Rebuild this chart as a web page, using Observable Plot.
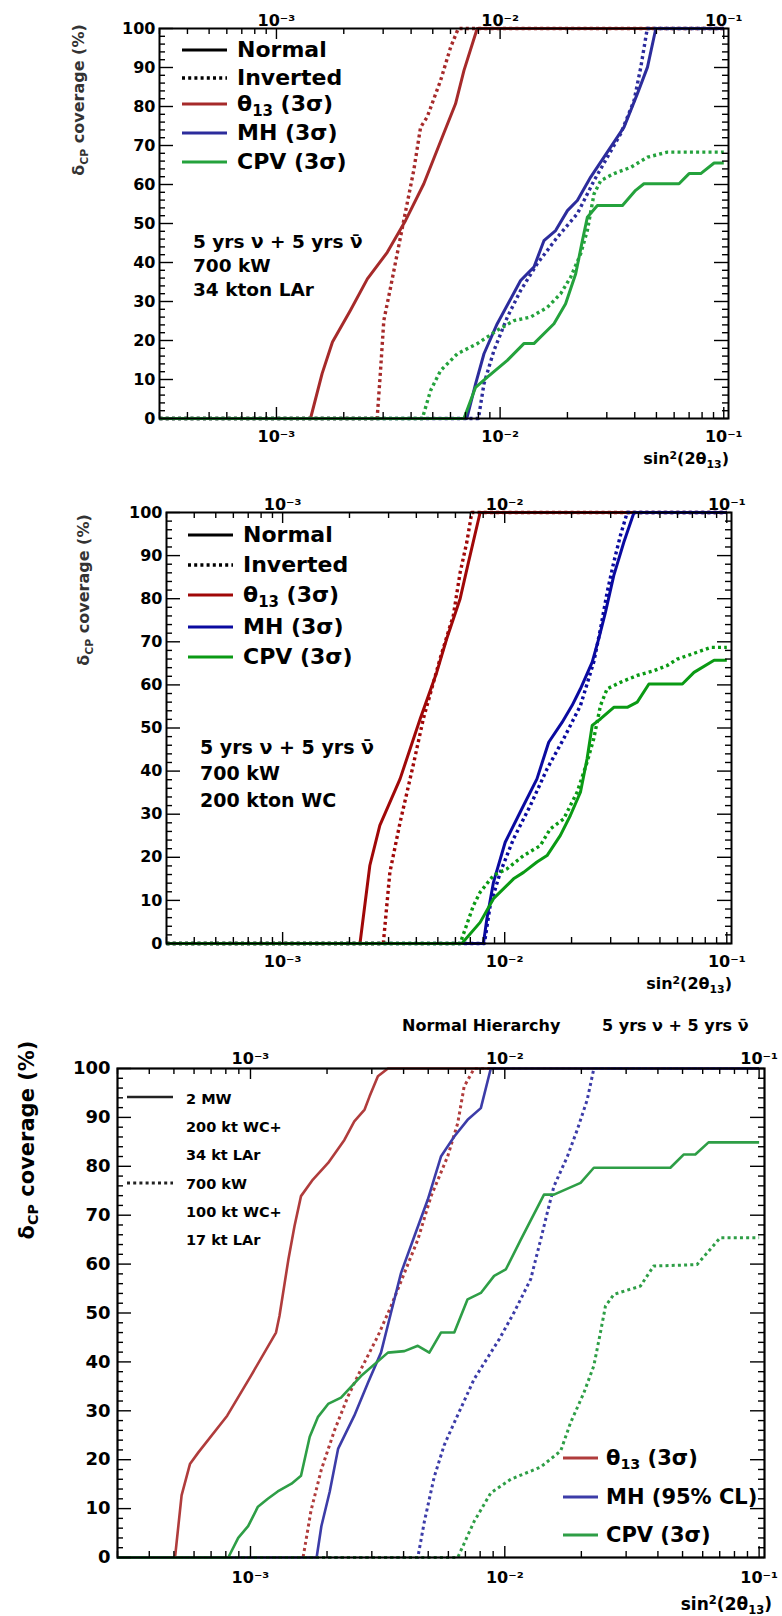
<!DOCTYPE html>
<html><head><meta charset="utf-8">
<script src="https://cdn.jsdelivr.net/npm/d3@7"></script>
<script src="https://cdn.jsdelivr.net/npm/@observablehq/plot@0.6"></script>
<style>
body{margin:0;background:#fff;}
#page{position:relative;width:782px;height:1616px;overflow:hidden;background:#fff;font-family:"DejaVu Sans",sans-serif;font-weight:bold;color:#000;}
.pl{position:absolute;left:0;}
.lbl{position:absolute;white-space:nowrap;line-height:1;}
.lbl sub{font-size:0.68em;vertical-align:-0.35em;line-height:0;}
.lbl sup{font-size:0.68em;vertical-align:0.5em;line-height:0;}
</style></head><body><div id="page"></div>
<script>
// ---------- axes / ticks ----------
const X_DOMAIN = [3e-4, 0.105];
const DECADES = [1e-3, 1e-2, 1e-1];
const DECADE_LABELS = ["10⁻³", "10⁻²", "10⁻¹"];
const MINOR_X = [3e-4,4e-4,5e-4,6e-4,7e-4,8e-4,9e-4,2e-3,3e-3,4e-3,5e-3,6e-3,7e-3,8e-3,9e-3,2e-2,3e-2,4e-2,5e-2,6e-2,7e-2,8e-2,9e-2];
const Y_MAJOR = [0,10,20,30,40,50,60,70,80,90,100];
const Y_MINOR = [2,4,6,8,12,14,16,18,22,24,26,28,32,34,36,38,42,44,46,48,52,54,56,58,62,64,66,68,72,74,76,78,82,84,86,88,92,94,96,98];

// ---------- panel 1 : 34 kton LAr ----------
const p1_theta_N_x = [3e-4,1.42e-3,1.60e-3,1.78e-3,2.14e-3,2.55e-3,3.13e-3,3.78e-3,4.56e-3,5.51e-3,6.32e-3,6.89e-3,7.9e-3,0.1];
const p1_theta_N_y = [0,0,11.5,19.6,27.7,35.8,42.6,50.8,60.2,72.1,80.7,89.2,100,100];
const p1_theta_I_x = [3e-4,2.82e-3,2.92e-3,3.02e-3,3.24e-3,3.71e-3,4.11e-3,4.41e-3,4.72e-3,5.42e-3,6.01e-3,6.5e-3,0.1];
const p1_theta_I_y = [0,0,12.3,25.1,33.7,50.8,63.6,74.7,77.3,86.7,95.2,100,100];
const p1_mh_N_x = [3e-4,7.1e-3,7.77e-3,8.47e-3,9.71e-3,0.01235,0.01416,0.0157,0.01771,0.02,0.02215,0.02541,0.03121,0.03581,0.04111,0.0456,0.0497,0.1];
const p1_mh_N_y = [0,0,8.9,16.6,24.3,35.4,38.8,45.6,48.2,53.3,55.9,61.9,69.6,74.7,83.3,90.1,100,100];
const p1_mh_I_x = [3e-4,8.0e-3,8.47e-3,9.38e-3,0.01077,0.01235,0.01466,0.01803,0.02215,0.0263,0.03018,0.03459,0.0397,0.04254,0.0455,0.1];
const p1_mh_I_y = [0,0,8.9,17.4,26,32.8,39.7,46.5,52.5,61,67,73,81.5,90,100,100];
const p1_cpv_N_x = [3e-4,6.89e-3,7.77e-3,8.77e-3,0.01077,0.01277,0.01416,0.01741,0.01963,0.02178,0.02333,0.02455,0.02722,0.03524,0.04036,0.04396,0.0631,0.06998,0.07889,0.09054,0.1];
const p1_cpv_N_y = [0,0,8,10.6,14.9,19.2,19.2,24.3,29.4,37.1,45.6,51.6,54.6,54.6,58.5,60.2,60.2,62.8,62.8,65.5,65.5];
const p1_cpv_I_x = [3e-4,4.49e-3,4.89e-3,5.42e-3,6.44e-3,7.91e-3,9.71e-3,0.01153,0.01368,0.01626,0.01866,0.02066,0.02291,0.02455,0.0263,0.02818,0.03229,0.03837,0.0456,0.056,0.1];
const p1_cpv_I_y = [0,0,7.2,12.3,16.6,19.2,22.6,25.1,26,28.5,32,36.2,42.2,48.2,57.6,61,62.8,64.4,67,68.3,68.3];

// ---------- panel 2 : 200 kton WC ----------
const p2_theta_N_x = [3e-4,2.23e-3,2.47e-3,2.74e-3,3.38e-3,4.16e-3,4.94e-3,5.48e-3,6.30e-3,6.87e-3,7.75e-3,0.1];
const p2_theta_N_y = [0,0,18.1,27.4,38.2,52.1,62.9,70.7,80,88.5,100,100];
const p2_theta_I_x = [3e-4,2.84e-3,3.04e-3,3.38e-3,3.87e-3,4.30e-3,5.11e-3,5.87e-3,6.30e-3,6.75e-3,7.11e-3,0.1];
const p2_theta_I_y = [0,0,16.5,28.1,41.3,52.1,66,76.1,86.1,93.1,100,100];
const p2_mh_N_x = [3e-4,8.02e-3,8.31e-3,8.9e-3,0.01005,0.01175,0.01397,0.01578,0.01812,0.0201,0.02193,0.02477,0.0265,0.02843,0.03099,0.03438,0.0382,0.1];
const p2_mh_N_y = [0,0,5.7,14.2,23.5,30.5,38.2,46.7,51.3,55.2,59.1,65.3,70.7,76.9,85.4,93.1,100,100];
const p2_mh_I_x = [3e-4,8.1e-3,8.6e-3,9.55e-3,0.01096,0.01304,0.01551,0.01842,0.02193,0.02517,0.02699,0.02893,0.03099,0.03321,0.0356,0.1];
const p2_mh_I_y = [0,0,8.8,16.5,24.3,32,40.5,47.5,55.2,65.3,73,81.5,88.5,94.7,100,100];
const p2_cpv_N_x = [3e-4,6.41e-3,7.75e-3,8.9e-3,0.01096,0.01216,0.01397,0.01551,0.01781,0.01975,0.02193,0.0235,0.02477,0.02699,0.03099,0.03562,0.03952,0.0446,0.0631,0.07118,0.08767,0.1];
const p2_cpv_N_y = [0,0,4.9,10.4,15,16.5,18.9,20.4,25.1,29.7,35.1,42.9,50.6,52.1,54.8,54.8,56,60.2,60.2,62.9,65.7,65.7];
const p2_cpv_I_x = [3e-4,6.3e-3,7.23e-3,7.75e-3,8.9e-3,0.01023,0.01216,0.01446,0.01604,0.01842,0.02118,0.0235,0.02517,0.02699,0.02893,0.03321,0.03952,0.04698,0.05395,0.05987,0.07374,0.08465,0.1];
const p2_cpv_I_y = [0,0,8.8,11.9,15.8,17.3,20.4,22.7,26.6,28.9,35.1,42.1,47.5,55.2,59.1,60.6,62.2,63.3,64.5,66,67.6,68.7,68.7];

// ---------- panel 3 : 2 MW vs 700 kW, normal hierarchy ----------
const p3_theta_2MW_x = [3e-4,5.05e-4,5.36e-4,5.78e-4,6.24e-4,8.1e-4,1.0e-3,1.26e-3,1.30e-3,1.41e-3,1.49e-3,1.58e-3,1.76e-3,2.02e-3,2.34e-3,2.56e-3,2.81e-3,2.94e-3,3.17e-3,3.47e-3,0.1];
const p3_theta_2MW_y = [0,0,12.7,19.1,21.5,29,37,46,49.4,61,67.8,73.9,77.3,80.7,85.4,89.2,91.6,94.3,98.4,100,100];
const p3_theta_700_x = [3e-4,1.61e-3,1.73e-3,1.90e-3,2.14e-3,2.42e-3,2.72e-3,3.17e-3,3.57e-3,4.03e-3,4.55e-3,5.13e-3,5.96e-3,6.53e-3,6.92e-3,7.58e-3,0.1];
const p3_theta_700_y = [0,0,9.6,18,26,33,38.5,45.3,51.4,58.2,65,73.9,82,88.8,96.3,100,100];
const p3_mh_2MW_x = [3e-4,1.82e-3,1.90e-3,2.05e-3,2.21e-3,2.56e-3,2.90e-3,3.26e-3,3.57e-3,3.91e-3,4.41e-3,4.98e-3,5.61e-3,6.33e-3,7.14e-3,8.05e-3,8.81e-3,0.1];
const p3_mh_2MW_y = [0,0,6.4,13.5,22.2,29,35.8,41.9,50.1,58.2,65.7,73.2,82,86.1,89.5,91.9,100,100];
const p3_mh_700_x = [3e-4,4.55e-3,4.83e-3,5.28e-3,5.78e-3,6.33e-3,7.58e-3,9.5e-3,0.01087,0.01264,0.01384,0.01469,0.0156,0.01762,0.01928,0.02109,0.0224,0.1];
const p3_mh_700_y = [0,0,7.4,16.5,23,27.6,36.5,44.6,50.1,56.9,65,70.5,75.9,82,87.5,93.6,100,100];
const p3_cpv_2MW_x = [3e-4,8.18e-4,8.95e-4,9.79e-4,1.07e-3,1.17e-3,1.28e-3,1.45e-3,1.58e-3,1.71e-3,1.84e-3,2.02e-3,2.27e-3,2.72e-3,3.47e-3,4.03e-3,4.55e-3,5.05e-3,5.61e-3,6.33e-3,7.14e-3,8.05e-3,9.08e-3,0.01009,0.01156,0.01426,0.0156,0.01986,0.02239,0.04477,0.05047,0.0561,0.06326,0.1];
const p3_cpv_2MW_y = [0,0,4,6.4,10.4,12,13.5,15.1,16.7,24.7,28.7,31.4,32.7,37.1,41.9,42.2,43.3,41.9,46,46,52.8,54.1,57.6,58.9,65,74.2,74.2,76.6,79.7,79.7,82.4,82.4,84.9,84.9];
const p3_cpv_700_x = [3e-4,6.53e-3,7.58e-3,8.81e-3,0.01056,0.01384,0.01659,0.01815,0.02047,0.02239,0.02377,0.02488,0.02683,0.03414,0.03849,0.05702,0.07031,0.1];
const p3_cpv_700_y = [0,0,7.4,13.2,16,18.5,21.8,27.6,33.7,39.2,46,51.4,53.8,55.5,59.6,59.9,65.4,65.4];

// ---------- helpers ----------
const page = document.getElementById("page");
const fmtX = d => DECADE_LABELS[DECADES.indexOf(d)];
const DOT = "3,3.2";

function makePanel(P) {
  const W = 782;
  const fw = W - P.ml - P.mr, fh = P.height - P.mt - P.mb;
  const marks = [];
  for (const s of P.series) {
    const data = s.x.map((x, i) => ({x, y: s.y[i]}));
    marks.push(Plot.line(data, {x: "x", y: "y", stroke: s.color,
      strokeWidth: s.dotted ? P.lw + 0.4 : P.lw,
      strokeDasharray: s.dotted ? DOT : undefined, strokeLinecap: "butt", strokeLinejoin: "round"}));
  }
  const sw = 1.4;
  marks.push(Plot.tickX(DECADES, {x: d => d, insetTop: fh - P.tx[0], strokeWidth: sw}));
  marks.push(Plot.tickX(MINOR_X, {x: d => d, insetTop: fh - P.tx[1], strokeWidth: sw}));
  marks.push(Plot.tickX(DECADES, {x: d => d, insetBottom: fh - P.tx[0], strokeWidth: sw}));
  marks.push(Plot.tickX(MINOR_X, {x: d => d, insetBottom: fh - P.tx[1], strokeWidth: sw}));
  marks.push(Plot.tickY(Y_MAJOR, {y: d => d, insetRight: fw - P.ty[0], strokeWidth: sw}));
  marks.push(Plot.tickY(Y_MINOR, {y: d => d, insetRight: fw - P.ty[1], strokeWidth: sw}));
  marks.push(Plot.tickY(Y_MAJOR, {y: d => d, insetLeft: fw - P.ty[0], strokeWidth: sw}));
  marks.push(Plot.tickY(Y_MINOR, {y: d => d, insetLeft: fw - P.ty[1], strokeWidth: sw}));
  marks.push(Plot.frame({stroke: "black", strokeWidth: P.fsw}));
  marks.push(Plot.axisX(DECADES, {anchor: "bottom", tickSize: 0, tickPadding: P.bpad, tickFormat: fmtX, label: null, fontSize: P.xfs}));
  marks.push(Plot.axisX(DECADES, {anchor: "top", tickSize: 0, tickPadding: P.tpad, tickFormat: fmtX, label: null, fontSize: P.xfs}));
  marks.push(Plot.axisY(Y_MAJOR, {anchor: "left", tickSize: 0, tickPadding: P.lpad, label: null, fontSize: P.yfs}));
  const svg = Plot.plot({
    width: W, height: P.height,
    marginTop: P.mt, marginBottom: P.mb, marginLeft: P.ml, marginRight: P.mr,
    x: {type: "log", domain: X_DOMAIN},
    y: {domain: [0, 100]},
    style: {fontFamily: "DejaVu Sans", fontWeight: "bold", fontSize: P.yfs + "px", background: "transparent", color: "#000", overflow: "visible"},
    marks
  });
  svg.classList.add("pl");
  svg.style.top = P.top + "px";
  page.appendChild(svg);
}

function addText(html, x, y, size, align = "left", extra = {}) {
  const d = document.createElement("div");
  d.className = "lbl";
  d.innerHTML = html;
  d.style.fontSize = size + "px";
  d.style.left = x + "px";
  d.style.top = y + "px";
  const tx = align === "left" ? "0" : align === "right" ? "-100%" : "-50%";
  d.style.transform = extra.rotate ? "translate(-50%,-50%) rotate(-90deg)" : `translate(${tx},-50%)`;
  if (extra.color) d.style.color = extra.color;
  if (extra.weight) d.style.fontWeight = extra.weight;
  page.appendChild(d);
}

const over = d3.select(page).append("svg")
  .attr("width", 782).attr("height", 1616)
  .style("position", "absolute").style("left", 0).style("top", 0).style("pointer-events", "none");
function swatch(x1, x2, y, color, w, dash) {
  over.append("line").attr("x1", x1).attr("x2", x2).attr("y1", y).attr("y2", y)
    .attr("stroke", color).attr("stroke-width", w).attr("stroke-dasharray", dash || null);
}

// ---------- panel 1 ----------
const C1 = {red: "#a62a2a", blue: "#2c2c9c", green: "#24a23c"};
makePanel({
  top: 0, height: 480, ml: 159, mr: 54, mt: 28, mb: 62,
  lw: 3, fsw: 2, tx: [11, 6], ty: [14, 6],
  bpad: 12, tpad: 3, lpad: 4, xfs: 16, yfs: 16,
  series: [
    {x: p1_theta_N_x, y: p1_theta_N_y, color: C1.red},
    {x: p1_theta_I_x, y: p1_theta_I_y, color: C1.red, dotted: true},
    {x: p1_mh_N_x, y: p1_mh_N_y, color: C1.blue},
    {x: p1_mh_I_x, y: p1_mh_I_y, color: C1.blue, dotted: true},
    {x: p1_cpv_I_x, y: p1_cpv_I_y, color: C1.green, dotted: true},
    {x: p1_cpv_N_x, y: p1_cpv_N_y, color: C1.green}
  ]
});
addText("δ<sub>CP</sub> coverage (%)", 79, 100, 16, "center", {rotate: true, color: "#333"});
addText("sin<sup>2</sup>(2θ<sub>13</sub>)", 729, 459, 16, "right");
[["Normal", "#000", null], ["Inverted", "#000", DOT], ["θ<sub>13</sub> (3σ)", C1.red, null], ["MH (3σ)", C1.blue, null], ["CPV (3σ)", C1.green, null]]
  .forEach(([t, c, dsh], i) => {
    const y = [50, 78, 104, 133, 162][i];
    swatch(182, 227, y, c, dsh ? 3.4 : 3, dsh);
    addText(t, 237, y, 22);
  });
addText("5 yrs ν + 5 yrs ν̄", 193, 242, 18.5);
addText("700 kW", 193, 266, 18.5);
addText("34 kton LAr", 193, 290, 18.5);

// ---------- panel 2 ----------
const C2 = {red: "#a00808", blue: "#0a0aa0", green: "#0a9a14"};
makePanel({
  top: 485, height: 500, ml: 166, mr: 51, mt: 27, mb: 42,
  lw: 3, fsw: 2, tx: [11, 6], ty: [14, 6],
  bpad: 12, tpad: 3, lpad: 4, xfs: 16, yfs: 16,
  series: [
    {x: p2_theta_N_x, y: p2_theta_N_y, color: C2.red},
    {x: p2_theta_I_x, y: p2_theta_I_y, color: C2.red, dotted: true},
    {x: p2_mh_N_x, y: p2_mh_N_y, color: C2.blue},
    {x: p2_mh_I_x, y: p2_mh_I_y, color: C2.blue, dotted: true},
    {x: p2_cpv_I_x, y: p2_cpv_I_y, color: C2.green, dotted: true},
    {x: p2_cpv_N_x, y: p2_cpv_N_y, color: C2.green}
  ]
});
addText("δ<sub>CP</sub> coverage (%)", 84, 590, 16, "center", {rotate: true, color: "#333"});
addText("sin<sup>2</sup>(2θ<sub>13</sub>)", 732, 984, 16, "right");
[["Normal", "#000", null], ["Inverted", "#000", DOT], ["θ<sub>13</sub> (3σ)", C2.red, null], ["MH (3σ)", C2.blue, null], ["CPV (3σ)", C2.green, null]]
  .forEach(([t, c, dsh], i) => {
    const y = [535, 565, 595, 627, 657][i];
    swatch(188, 233, y, c, dsh ? 3.4 : 3, dsh);
    addText(t, 243, y, 22);
  });
addText("5 yrs ν + 5 yrs ν̄", 200, 747, 19);
addText("700 kW", 200, 773, 19);
addText("200 kton WC", 200, 800, 19);

// ---------- panel 3 ----------
const C3 = {red: "#b03c3c", blue: "#3c3ca8", green: "#2e9e46"};
makePanel({
  top: 1000, height: 616, ml: 117, mr: 18, mt: 68, mb: 59,
  lw: 2.6, fsw: 2.2, tx: [11, 6], ty: [14, 6],
  bpad: 14, tpad: 5, lpad: 7, xfs: 16, yfs: 18,
  series: [
    {x: p3_theta_2MW_x, y: p3_theta_2MW_y, color: C3.red},
    {x: p3_theta_700_x, y: p3_theta_700_y, color: C3.red, dotted: true},
    {x: p3_mh_2MW_x, y: p3_mh_2MW_y, color: C3.blue},
    {x: p3_mh_700_x, y: p3_mh_700_y, color: C3.blue, dotted: true},
    {x: p3_cpv_700_x, y: p3_cpv_700_y, color: C3.green, dotted: true},
    {x: p3_cpv_2MW_x, y: p3_cpv_2MW_y, color: C3.green}
  ]
});
addText("δ<sub>CP</sub> coverage (%)", 27, 1140, 21, "center", {rotate: true});
addText("sin<sup>2</sup>(2θ<sub>13</sub>)", 772, 1604, 17, "right");
addText("Normal Hierarchy", 402, 1026, 16);
addText("5 yrs ν + 5 yrs ν̄", 602, 1026, 16);
swatch(127, 173, 1097, "#222", 2.6, null);
swatch(127, 173, 1183, "#222", 3, DOT);
["2 MW", "200 kt WC+", "34 kt LAr", "700 kW", "100 kt WC+", "17 kt LAr"].forEach((t, i) => {
  addText(t, 186, [1099, 1127, 1155, 1184, 1212, 1240][i], 14.5);
});
[["θ<sub>13</sub> (3σ)", C3.red], ["MH (95% CL)", C3.blue], ["CPV (3σ)", C3.green]].forEach(([t, c], i) => {
  const y = [1458, 1497, 1535][i];
  swatch(563, 598, y, c, 3, null);
  addText(t, 606, y, 21);
});
</script></body></html>
